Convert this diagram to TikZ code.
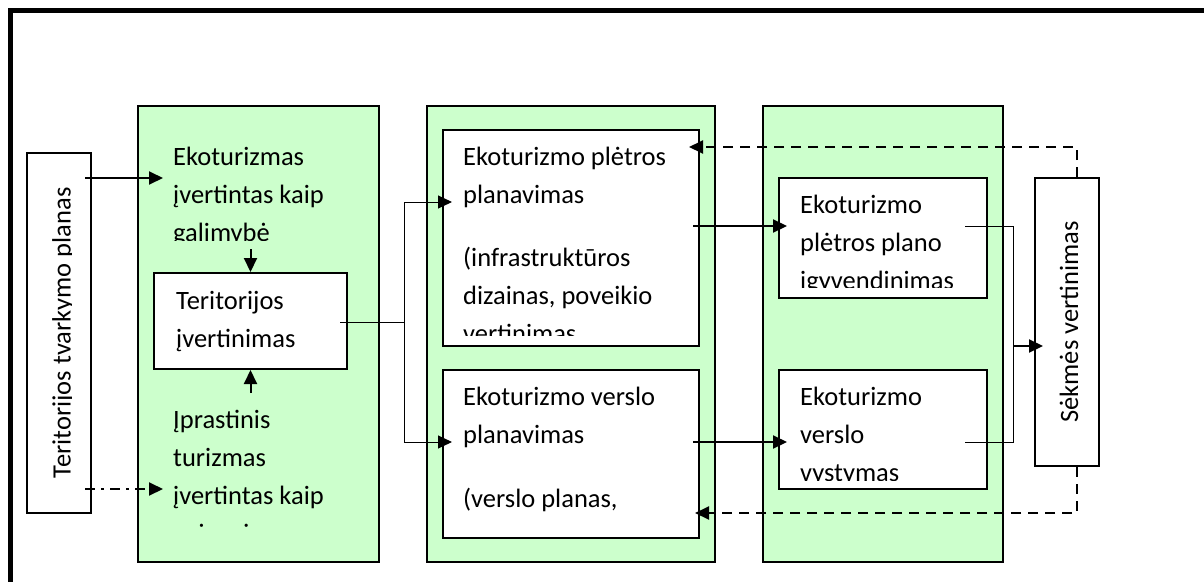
\documentclass[tikz,border=0pt]{standalone}
\usepackage{fontspec}
\setmainfont{Carlito}
\usepackage{xcolor}
\usetikzlibrary{arrows.meta,positioning}
\definecolor{panelgreen}{RGB}{204,255,204}

\begin{document}
\begin{tikzpicture}[x=1pt, y=-1pt,
      panel/.style={draw, line width=2pt, fill=panelgreen, inner sep=0pt},
      box/.style={draw, line width=2pt, fill=white, inner sep=0pt},
      txt/.style={anchor=base west, inner sep=0pt, font=\fontsize{26.5}{38}\selectfont},
      vtxt/.style={rotate=90, anchor=base, inner sep=0pt, font=\fontsize{26.5}{38}\selectfont},
      tip/.style={-{Triangle[length=14pt, width=13pt]}},
      flow/.style={line width=2pt, tip},
      link/.style={line width=1pt},
      linkarrow/.style={link, tip},
      feedback/.style={line width=2pt, dash pattern=on 10pt off 7pt, tip},
      option/.style={line width=2pt, dash pattern=on 10pt off 6pt on 3pt off 6pt, tip}
    ]
    \useasboundingbox (0,0) rectangle (1204,581);
    \clip (0,0) rectangle (1204,581);

    % Outer frame (only top and left edges are in view)
    \draw[line width=5pt] (10.8,620) |- (1260,10.8);

    % Nodes
    \node[box, minimum width=64pt, minimum height=360pt] (plan) at (59,333) {};
    \node[panel, minimum width=241pt, minimum height=456pt] (colA) at (258.5,334) {};
    \node[box, minimum width=193pt, minimum height=96pt] (assess) at (250.5,321) {};
    \node[panel, minimum width=288pt, minimum height=456pt] (colB) at (571,334) {};
    \node[box, minimum width=256pt, minimum height=216pt] (devplan) at (571,238) {};
    \node[box, minimum width=256pt, minimum height=168pt] (busplan) at (571,454) {};
    \node[panel, minimum width=240pt, minimum height=456pt] (colC) at (883,334) {};
    \node[box, minimum width=208pt, minimum height=120pt] (devimpl) at (883,238) {};
    \node[box, minimum width=208pt, minimum height=119pt] (busdev) at (883,429.5) {};
    \node[box, minimum width=64pt, minimum height=288pt] (success) at (1067,322) {};

    % Texts (cut off where the text boxes end)
    \begin{scope}
      \clip (29,155) rectangle (71,511);
      \node[vtxt] (planText) at (70.5,333) {Teritorijos tvarkymo planas};
    \end{scope}
    \begin{scope}
      \clip (140,108) rectangle (377,240);
      \node[txt] (ecoText) at (173,165) {\parbox[t]{200pt}{Ekoturizmas\\įvertintas kaip\\galimybė}};
    \end{scope}
    \node[txt] (assessText) at (176,309) {\parbox[t]{160pt}{Teritorijos\\įvertinimas}};
    \begin{scope}
      \clip (140,380) rectangle (377,528);
      \node[txt] (usualText) at (173,428) {\parbox[t]{200pt}{Įprastinis\\turizmas\\įvertintas kaip\\grėsmė}};
    \end{scope}
    \begin{scope}
      \clip (445,132) rectangle (697,335);
      \node[txt] (devText) at (463,165) {\parbox[t]{230pt}{Ekoturizmo plėtros\\planavimas\\[25pt](infrastruktūros\\dizainas, poveikio\\vertinimas}};
    \end{scope}
    \begin{scope}
      \clip (445,372) rectangle (697,527);
      \node[txt] (busText) at (463,405) {\parbox[t]{230pt}{Ekoturizmo verslo\\planavimas\\[26pt](verslo planas,}};
    \end{scope}
    \begin{scope}
      \clip (781,180) rectangle (985,287);
      \node[txt] (implText) at (800,213) {\parbox[t]{180pt}{Ekoturizmo\\plėtros plano\\įgyvendinimas}};
    \end{scope}
    \begin{scope}
      \clip (781,372) rectangle (985,480);
      \node[txt] (busdevText) at (800,405) {\parbox[t]{180pt}{Ekoturizmo\\verslo\\vystymas}};
    \end{scope}
    \node[vtxt] (successText) at (1078,322) {Sėkmės vertinimas};

    % Connector end points
    \coordinate (ecoOut) at (85,178);
    \coordinate (ecoIn) at (163,178);
    \coordinate (usualOut) at (85,489);
    \coordinate (usualIn) at (163,489);
    \coordinate (assessOut) at (340,322);
    \coordinate (split) at (404,322);
    \coordinate (devIn) at (452,202);
    \coordinate (busIn) at (452,442);
    \coordinate (devOut) at (693,226);
    \coordinate (implIn) at (787,226);
    \coordinate (busOut) at (693,442);
    \coordinate (busdevIn) at (787,442);
    \coordinate (implOut) at (965,226);
    \coordinate (busdevOut) at (965,442);
    \coordinate (merge) at (1013,346);
    \coordinate (successIn) at (1043,346);
    \coordinate (devBack) at (689,147);
    \coordinate (busBack) at (695,513);

    % Plan to the first stage
    \draw[flow] (ecoOut) -- (ecoIn);
    \draw[option] (usualOut) -- (usualIn);
    \draw[flow] ([yshift=23pt]assess.north) -- (assess.north);
    \draw[flow] ([yshift=-23pt]assess.south) -- (assess.south);
    % Assessment to planning
    \draw[link] (assessOut) -- (split);
    \draw[linkarrow] (split) |- (devIn);
    \draw[linkarrow] (split) |- (busIn);
    % Planning to implementation
    \draw[flow] (devOut) -- (implIn);
    \draw[flow] (busOut) -- (busdevIn);
    % Implementation to evaluation
    \draw[link] (implOut) -| (merge) |- (busdevOut);
    \draw[flow] (merge) -- (successIn);
    % Feedback
    \draw[feedback] ([xshift=10pt]success.north) |- (devBack);
    \draw[feedback] ([xshift=10pt]success.south) |- (busBack);
  \end{tikzpicture}
\end{document}
